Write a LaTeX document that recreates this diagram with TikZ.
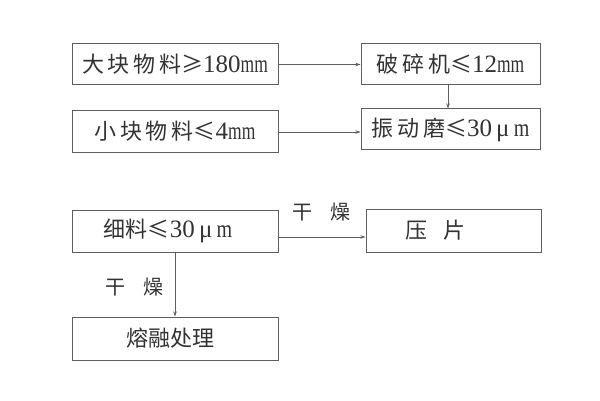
\documentclass[tikz,border=0pt]{standalone}
\usepackage{fontspec}
\usepackage{graphicx}
\setmainfont{Liberation Serif}
\newfontfamily\cjk{Noto Sans CJK SC}
\usetikzlibrary{arrows.meta}
\definecolor{txt}{HTML}{333333}
\definecolor{ln}{HTML}{5E5E5E}
\newcommand{\mmu}{\scalebox{0.7}[1]{mm}}
\newcommand{\lat}[1]{{\fontsize{25}{28}\selectfont #1}}
\begin{document}
\begin{tikzpicture}[x=1pt,y=-1pt,
  box/.style={draw=ln,line width=1pt,rectangle,inner sep=0pt,text=txt,font=\fontsize{22}{25}\selectfont},
  conn/.style={draw=ln,line width=0.8pt,-{Stealth[length=5pt,width=3.5pt]}},
  lab/.style={text=txt,font=\cjk\fontsize{20}{22}\selectfont,inner sep=0pt}]
\useasboundingbox[fill=white] (0,0) rectangle (600,401);
\node[box,minimum width=206,minimum height=41] (b1) at (175,64.5) {{\cjk 大\,块\,物\,料≥}\lat{180\mmu}};
\node[box,minimum width=179,minimum height=41] (b2) at (450.5,64.5) {{\cjk 破\,碎\,机≤}\lat{12\mmu}};
\node[box,minimum width=206,minimum height=42] (b3) at (175,131.5) {{\cjk 小\,块\,物\,料≤}\lat{4\mmu}};
\node[box,minimum width=179,minimum height=41] (b4) at (450.5,129.5) {{\cjk 振\,动\,磨≤}\lat{30\,μ\,\scalebox{0.8}[1]{m}}};
\node[box,minimum width=206,minimum height=42] (b5) at (175,231) {\hspace*{-14pt}{\cjk 细料≤}\lat{30\,μ\,\scalebox{0.8}[1]{m}}};
\node[box,minimum width=175,minimum height=43] (b6) at (453.5,230.5) {\hspace*{-36pt}{\cjk 压\hspace{16pt}片}};
\node[box,minimum width=206,minimum height=43] (b7) at (175,338.5) {\hspace*{-10pt}{\cjk 熔融处理}};
\draw[conn] (b1.east) -- (b2.west);
\draw[conn] ([yshift=-0.5]b3.east) -- ([yshift=-0.5]b3.east -| b4.west);
\draw[conn] ([xshift=-2.5]b2.south) -- ([xshift=-2.5]b4.north);
\draw[conn] ([yshift=-6]b5.east) -- ([yshift=-6]b5.east -| b6.west);
\draw[conn] (b5.south) -- (b7.north);
\node[lab] (l1) at (321,212) {干\hspace{18pt}燥};
\node[lab] (l2) at (134,287) {干\hspace{18pt}燥};
\end{tikzpicture}
\end{document}
